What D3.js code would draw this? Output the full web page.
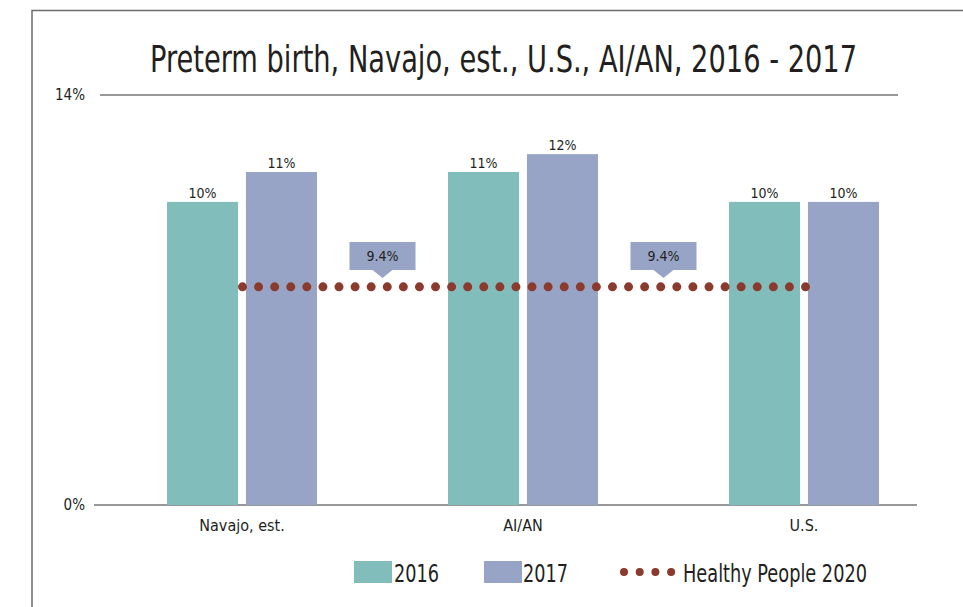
<!DOCTYPE html>
<html>
  <head>
    <meta charset="utf-8">
    <script src="https://d3js.org/d3.v7.min.js"></script>
    <title>Preterm birth</title>
    <style>
      body { margin: 0; background: #fff; }
      text {
        font-family: "DejaVu Sans Condensed", "Liberation Sans Narrow", sans-serif;
        fill: #231f20;
      }
    </style>
  </head>
  <body>
    <svg width="963" height="607"></svg>
    <script>
      // data
      const categories = ['Navajo, est.', 'AI/AN', 'U.S.'];
      const years = ['2016', '2017'];
      const values2016 = [10.35, 11.37, 10.35];
      const values2017 = [11.37, 11.98, 10.35];
      const valueLabels2016 = ['10%', '11%', '10%'];
      const valueLabels2017 = ['11%', '12%', '10%'];
      const hpLabel = '9.4%';
      const hpLevel = 7.45;     // where the dotted line sits on the axis
      const yTicks = [0, 14];
      const colors = { '2016': '#80bdbb', '2017': '#97a4c5' };
      const hpColor = '#8b3a2e';

      const svg = d3.select('svg');

      // frame
      svg.append('path')
        .attr('d', 'M32,607 V10.5 H963')
        .attr('fill', 'none')
        .attr('stroke', '#6b6b6b')
        .attr('stroke-width', 1.5);

      // title: narrow font stretched up to look like the condensed original
      svg.append('text')
        .attr('transform', 'translate(150,72) scale(1,1.32)')
        .attr('textLength', 707)
        .attr('lengthAdjust', 'spacingAndGlyphs')
        .style('font-size', '28px')
        .text('Preterm birth, Navajo, est., U.S., AI/AN, 2016 - 2017');

      const y = d3.scaleLinear().domain([0, 14]).range([505, 95]);
      const x0 = d3.scaleBand().domain(categories).range([101.5, 944.5]);
      const groupW = 150;
      const x1 = d3.scaleBand().domain(years).range([0, groupW]).paddingInner(0.1);
      const groupX = c => x0(c) + (x0.bandwidth() - groupW) / 2;

      // top line at 14% and baseline at 0
      svg.append('line')
        .attr('x1', 100).attr('x2', 898)
        .attr('y1', y(14)).attr('y2', y(14))
        .attr('stroke', '#333').attr('stroke-width', 1.2);

      svg.append('line')
        .attr('x1', 94).attr('x2', 917)
        .attr('y1', y(0)).attr('y2', y(0))
        .attr('stroke', '#333').attr('stroke-width', 1.2);

      svg.selectAll('.ytick').data(yTicks)
        .enter().append('text')
          .attr('class', 'ytick')
          .attr('x', 85)
          .attr('y', d => y(d))
          .attr('dy', '0.35em')
          .attr('text-anchor', 'end')
          .style('font-size', '15px')
          .text(d => d + '%');

      const rows = [];
      categories.forEach((c, i) => {
        rows.push({ cat: c, year: '2016', v: values2016[i], label: valueLabels2016[i] });
        rows.push({ cat: c, year: '2017', v: values2017[i], label: valueLabels2017[i] });
      });

      svg.selectAll('rect.bar').data(rows)
        .enter().append('rect')
          .attr('class', 'bar')
          .attr('x', d => groupX(d.cat) + x1(d.year))
          .attr('y', d => y(d.v))
          .attr('width', x1.bandwidth())
          .attr('height', d => y(0) - y(d.v))
          .attr('fill', d => colors[d.year]);

      svg.selectAll('text.val').data(rows)
        .enter().append('text')
          .attr('class', 'val')
          .attr('x', d => groupX(d.cat) + x1(d.year) + x1.bandwidth() / 2)
          .attr('y', d => y(d.v) - 4)
          .attr('text-anchor', 'middle')
          .style('font-size', '14px')
          .text(d => d.label);

      svg.selectAll('text.cat').data(categories)
        .enter().append('text')
          .attr('class', 'cat')
          .attr('x', d => x0(d) + x0.bandwidth() / 2)
          .attr('y', 531)
          .attr('text-anchor', 'middle')
          .style('font-size', '16px')
          .text(d => d);

      // healthy people 2020 dotted line, from first group centre to last
      const cx = c => x0(c) + x0.bandwidth() / 2;
      const hpX1 = cx(categories[0]) + 0.5, hpX2 = cx(categories[categories.length - 1]) + 1.5;
      svg.append('line')
        .attr('x1', hpX1)
        .attr('x2', hpX2 + 1)
        .attr('y1', y(hpLevel)).attr('y2', y(hpLevel))
        .attr('stroke', hpColor)
        .attr('stroke-width', 9)
        .attr('stroke-linecap', 'round')
        .attr('stroke-dasharray', `0 ${(hpX2 - hpX1) / 35}`);

      // callouts between the groups
      const mids = [
        (cx(categories[0]) + cx(categories[1])) / 2,
        (cx(categories[1]) + cx(categories[2])) / 2
      ];
      const callTop = 242, callBot = 270, tip = 278, halfW = 33;
      const callouts = svg.selectAll('g.callout').data(mids)
        .enter().append('g')
          .attr('class', 'callout')
          .attr('transform', d => `translate(${d},0)`);
      callouts.append('path')
        .attr('d', `M${-halfW},${callTop} H${halfW} V${callBot} H${halfW * 0.3} L0,${tip} L${-halfW * 0.3},${callBot} H${-halfW} Z`)
        .attr('fill', colors['2017']);
      callouts.append('text')
        .attr('x', 0)
        .attr('y', 256)
        .attr('dy', '0.35em')
        .attr('text-anchor', 'middle')
        .style('font-size', '14px')
        .text(hpLabel);

      // legend
      const legend = svg.append('g');
      const legItems = [
        { key: '2016', x: 354, tx: 394 },
        { key: '2017', x: 484, tx: 523 }
      ];
      legItems.forEach(it => {
        legend.append('rect')
          .attr('x', it.x).attr('y', 561)
          .attr('width', 38).attr('height', 22)
          .attr('fill', colors[it.key]);
        legend.append('text')
          .attr('x', it.tx).attr('y', 582)
          .attr('textLength', 45)
          .attr('lengthAdjust', 'spacingAndGlyphs')
          .style('font-size', '25px')
          .text(it.key);
      });
      legend.append('line')
        .attr('x1', 624).attr('x2', 673)
        .attr('y1', 572).attr('y2', 572)
        .attr('stroke', hpColor)
        .attr('stroke-width', 8)
        .attr('stroke-linecap', 'round')
        .attr('stroke-dasharray', '0 15.7');
      legend.append('text')
        .attr('x', 683).attr('y', 582)
        .attr('textLength', 184)
        .attr('lengthAdjust', 'spacingAndGlyphs')
        .style('font-size', '25px')
        .text('Healthy People 2020');
    </script>
  </body>
</html>
